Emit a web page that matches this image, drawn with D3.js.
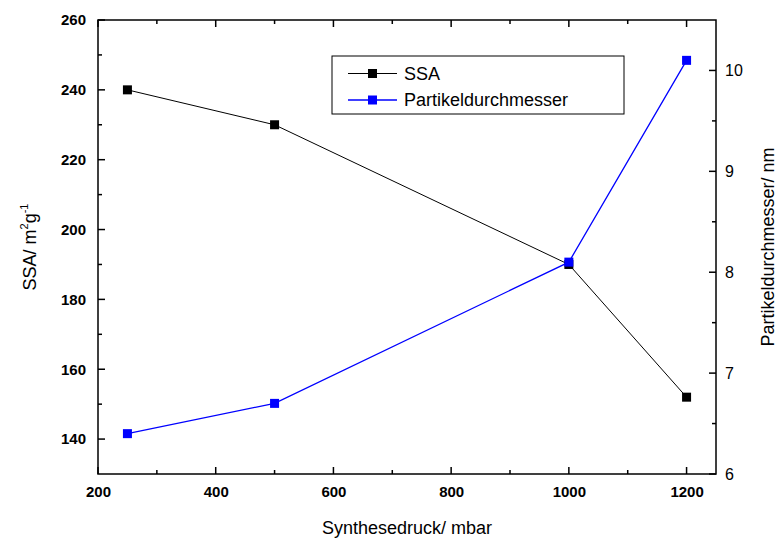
<!DOCTYPE html>
<html>
<head>
<meta charset="utf-8">
<script src="https://cdn.jsdelivr.net/npm/d3@7"></script>
<style>
  body { margin: 0; background: #fff; overflow: hidden; }
  svg { font-family: "Liberation Sans", Arial, sans-serif; display: block; }
  .labels text { fill: #000; }
  .bold text { font-weight: bold; font-size: 15px; }
  .plain text { font-size: 16px; }
</style>
</head>
<body>
<div id="chart"></div>
<script>
// data
const pressure = [250, 500, 1000, 1200];
const ssa = [240, 230, 190, 152];
const diameter = [6.4, 6.7, 8.1, 10.1];
const xMajor = [200, 400, 600, 800, 1000, 1200];
const xMinor = [300, 500, 700, 900, 1100];
const yLeftMajor = [140, 160, 180, 200, 220, 240, 260];
const yLeftMinor = [150, 170, 190, 210, 230, 250];
const yRightMajor = [6, 7, 8, 9, 10];
const yRightMinor = [6.5, 7.5, 8.5, 9.5];

const width = 777, height = 541;
const margin = { top: 20, right: 61, bottom: 67, left: 98 };
const w = width - margin.left - margin.right;
const h = height - margin.top - margin.bottom;

const svg = d3.select('#chart').append('svg')
  .attr('width', width)
  .attr('height', height);

const g = svg.append('g')
  .attr('transform', `translate(${margin.left},${margin.top})`);

const x = d3.scaleLinear().domain([200, 1250]).range([0, w]);
const yL = d3.scaleLinear().domain([130, 260]).range([h, 0]);
const yR = d3.scaleLinear().domain([6, 10.5]).range([h, 0]);
const fmt = d3.format('d');

// tick labels from the axes, ticks drawn separately
g.append('g').attr('class', 'labels bold')
  .attr('transform', `translate(0,${h})`)
  .call(d3.axisBottom(x).tickValues(xMajor).tickFormat(fmt).tickSize(0).tickPadding(12))
  .call((a) => a.select('.domain').remove());
g.append('g').attr('class', 'labels bold')
  .call(d3.axisLeft(yL).tickValues(yLeftMajor).tickFormat(fmt).tickSize(0).tickPadding(12))
  .call((a) => a.select('.domain').remove());
g.append('g').attr('class', 'labels plain')
  .attr('transform', `translate(${w},0)`)
  .call(d3.axisRight(yR).tickValues(yRightMajor).tickFormat(fmt).tickSize(0).tickPadding(9))
  .call((a) => a.select('.domain').remove());

// frame
g.append('rect')
  .attr('width', w)
  .attr('height', h)
  .attr('fill', 'none')
  .attr('stroke', '#000')
  .attr('stroke-width', 1.5);

// inward ticks: bottom and top
const ticksG = g.append('g').attr('stroke', '#000').attr('stroke-width', 1.5);
const xTicks = xMajor.map((v) => ({ v, len: 7 })).concat(xMinor.map((v) => ({ v, len: 4 })));
ticksG.selectAll('.xtb')
  .data(xTicks)
  .enter()
  .append('line')
  .attr('class', 'xtb')
  .attr('x1', (d) => x(d.v)).attr('x2', (d) => x(d.v))
  .attr('y1', h).attr('y2', (d) => h - d.len);
ticksG.selectAll('.xtt')
  .data(xTicks)
  .enter()
  .append('line')
  .attr('class', 'xtt')
  .attr('x1', (d) => x(d.v)).attr('x2', (d) => x(d.v))
  .attr('y1', 0).attr('y2', (d) => d.len);

// left ticks
const lTicks = yLeftMajor.map((v) => ({ v, len: 7 })).concat(yLeftMinor.map((v) => ({ v, len: 4 })));
ticksG.selectAll('.ytl')
  .data(lTicks)
  .enter()
  .append('line')
  .attr('class', 'ytl')
  .attr('y1', (d) => yL(d.v)).attr('y2', (d) => yL(d.v))
  .attr('x1', 0).attr('x2', (d) => d.len);

// right ticks
const rTicks = yRightMajor.map((v) => ({ v, len: 7 })).concat(yRightMinor.map((v) => ({ v, len: 4 })));
ticksG.selectAll('.ytr')
  .data(rTicks)
  .enter()
  .append('line')
  .attr('class', 'ytr')
  .attr('y1', (d) => yR(d.v)).attr('y2', (d) => yR(d.v))
  .attr('x1', w).attr('x2', (d) => w - d.len);

// series
const series = [
  { name: 'SSA', values: ssa, y: yL, colour: '#000', lw: 1 },
  { name: 'Partikeldurchmesser', values: diameter, y: yR, colour: '#0000ff', lw: 1.3 },
];
const ms = 9;

series.forEach((s) => {
  const line = d3.line()
    .x((d, i) => x(pressure[i]))
    .y((d) => s.y(d));
  g.append('path')
    .datum(s.values)
    .attr('fill', 'none')
    .attr('stroke', s.colour)
    .attr('stroke-width', s.lw)
    .attr('d', line);
  g.append('g').selectAll('rect')
    .data(s.values)
    .enter()
    .append('rect')
    .attr('x', (d, i) => x(pressure[i]) - ms / 2)
    .attr('y', (d) => s.y(d) - ms / 2)
    .attr('width', ms)
    .attr('height', ms)
    .attr('fill', s.colour);
});

// legend
const legend = svg.append('g').attr('transform', 'translate(332,56)');
legend.append('rect')
  .attr('width', 292)
  .attr('height', 58)
  .attr('fill', '#fff')
  .attr('stroke', '#000')
  .attr('stroke-width', 1);
const items = legend.selectAll('.item')
  .data(series)
  .enter()
  .append('g')
  .attr('class', 'item')
  .attr('transform', (d, i) => `translate(0,${17.5 + i * 26.5})`);
items.append('line')
  .attr('x1', 16).attr('x2', 65)
  .attr('stroke', (d) => d.colour)
  .attr('stroke-width', (d) => d.lw);
items.append('rect')
  .attr('x', 40.5 - ms / 2).attr('y', -ms / 2)
  .attr('width', ms).attr('height', ms)
  .attr('fill', (d) => d.colour);
items.append('text')
  .attr('x', 72)
  .attr('dy', '0.36em')
  .attr('font-size', 18)
  .text((d) => d.name);

// axis titles
svg.append('text')
  .attr('x', margin.left + w / 2)
  .attr('y', 534)
  .attr('text-anchor', 'middle')
  .attr('font-size', 18)
  .text('Synthesedruck/ mbar');

const leftTitle = svg.append('text')
  .attr('transform', `translate(36,${margin.top + h / 2}) rotate(-90)`)
  .attr('text-anchor', 'middle')
  .attr('font-size', 18);
leftTitle.append('tspan').text('SSA/ m');
leftTitle.append('tspan').attr('font-size', 11).attr('dy', -8).text('2');
leftTitle.append('tspan').attr('dy', 8).text('g');
leftTitle.append('tspan').attr('font-size', 11).attr('dy', -8).text('-1');

svg.append('text')
  .attr('transform', `translate(774,${margin.top + h / 2}) rotate(-90)`)
  .attr('text-anchor', 'middle')
  .attr('font-size', 18)
  .text('Partikeldurchmesser/ nm');
</script>
</body>
</html>
